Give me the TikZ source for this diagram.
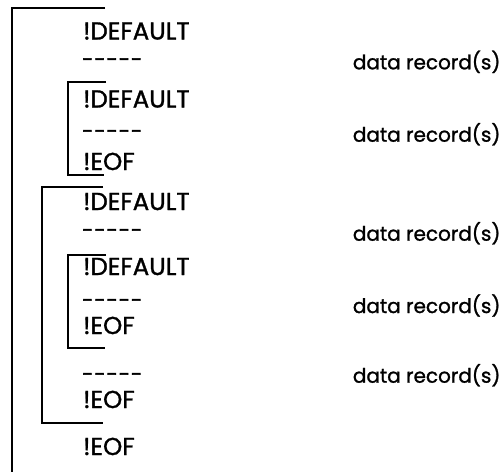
\documentclass[tikz,border=0pt]{standalone}
\usepackage{fontspec}
\setmainfont{Poppins}[FakeBold=1.2]
\usetikzlibrary{positioning}

\tikzset{
  cmd/.style={anchor=base west, inner sep=0pt, font=\fontsize{24.5}{28}\selectfont},
  sepline/.style={anchor=base west, inner sep=0pt, font=\fontsize{20}{24}\selectfont\addfontfeature{FakeBold=3}},
  rec/.style={anchor=base west, inner sep=0pt, font=\fontsize{20}{24}\selectfont},
  brk/.style={line width=1.3pt}
}
\newcommand{\sep}{-\kern1.2pt-\kern1.2pt-\kern1.2pt-\kern1.2pt-}

\begin{document}
\begin{tikzpicture}[x=1pt,y=-1pt]
\useasboundingbox (0,0) rectangle (502,472);

% Brackets
\draw[brk] (105,8) -- (12,8) -- (12,472);
\draw[brk] (106,82) -- (68,82) -- (68,175) -- (104,175);
\draw[brk] (103,187) -- (42,187) -- (42,423) -- (103,423);
\draw[brk] (106,255) -- (68,255) -- (68,348) -- (105,348);

% Control cards
\node[cmd] (def1) at (83,39.5) {!DEFAULT};
\node[sepline] (sep1) at (82,66.5) {\sep};
\node[cmd] (def2) at (83,107.5) {!DEFAULT};
\node[sepline] (sep2) at (82,138.2) {\sep};
\node[cmd] (eof1) at (83,170) {!EOF};
\node[cmd] (def3) at (83,210) {!DEFAULT};
\node[sepline] (sep3) at (82,237.2) {\sep};
\node[cmd] (def4) at (83,275) {!DEFAULT};
\node[sepline] (sep4) at (82,307.2) {\sep};
\node[cmd] (eof2) at (83,334) {!EOF};
\node[sepline] (sep5) at (82,381.2) {\sep};
\node[cmd] (eof3) at (83,408) {!EOF};
\node[cmd] (eof4) at (83,455) {!EOF};

% Data records
\foreach \i/\y in {1/69.3, 2/141.7, 3/240.7, 4/313, 5/382.7} {
    \node[rec] (rec\i) at (352.7,\y) {data record(s)};
}
\end{tikzpicture}
\end{document}
